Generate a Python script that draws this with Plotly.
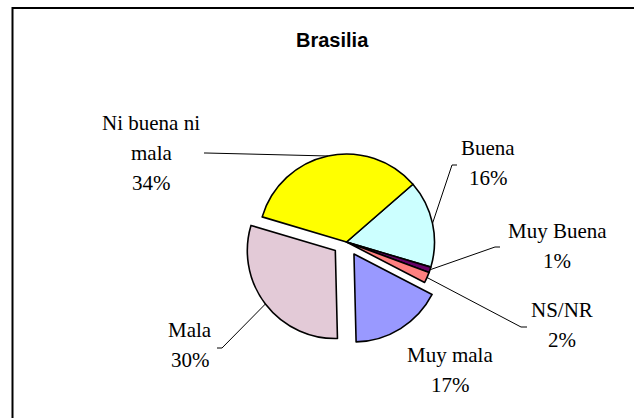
import math
import plotly.graph_objects as go

# ---- data ----
categories = ["Buena", "Muy Buena", "NS/NR", "Muy mala", "Mala", "Ni buena ni mala"]
label_lines = ["Buena", "Muy Buena", "NS/NR", "Muy mala", "Mala", "Ni buena ni<br>mala"]
values = [16, 1, 2, 17, 30, 34]
pulls = [0, 0, 0, 0.16, 0.16, 0]
colors = ["#CCFFFF", "#660066", "#FF8080", "#9999FF", "#E3CAD7", "#FFFF00"]
title_text = "Brasilia"

# ---- layout geometry (pixels) ----
W, H = 634, 418
cx, cy, R = 346.5, 242.0, 88.0
rotation = 49
box_half = R * (1 + max(pulls))

# label text centres (px) and leader-line start/elbow points
label_pos = {
    "Buena": (488, 163),
    "Muy Buena": (557, 246),
    "NS/NR": (562, 325),
    "Muy mala": (450, 370),
    "Mala": (190, 345),
    "Ni buena ni mala": (151, 153),
}
leader = {
    "Buena": [(457, 165), (452, 165)],
    "Muy Buena": [(500, 247), (495, 247)],
    "NS/NR": [(527, 327), (521, 327)],
    "Muy mala": None,
    "Mala": [(217, 348), (222, 348)],
    "Ni buena ni mala": [(204, 153), (206, 153)],
}
line_gap = 30


def px2paper(x, y):
    return x / W, 1 - y / H


fig = go.Figure()
fig.add_trace(go.Pie(
    labels=categories,
    values=values,
    sort=False,
    direction="clockwise",
    rotation=rotation,
    pull=pulls,
    marker=dict(colors=colors, line=dict(color="black", width=1.6)),
    textinfo="none",
    hoverinfo="label+percent",
    showlegend=False,
    domain=dict(
        x=[(cx - box_half) / W, (cx + box_half) / W],
        y=[(H - cy - box_half) / H, (H - cy + box_half) / H],
    ),
))

shapes = []
annotations = []
total = sum(values)
acc = 0.0
for cat, lines, v, p in zip(categories, label_lines, values, pulls):
    a0 = rotation + 360 * acc / total
    acc += v
    a1 = rotation + 360 * acc / total
    mid = math.radians((a0 + a1) / 2)
    rr = R * (1 + p)
    ex, ey = cx + rr * math.sin(mid), cy - rr * math.cos(mid)

    tx, ty = label_pos[cat]
    parts = lines.split("<br>") + [f"{v}%"]
    n = len(parts)
    for i, t in enumerate(parts):
        yy = ty + (i - (n - 1) / 2) * line_gap
        px_, py_ = px2paper(tx, yy)
        annotations.append(dict(
            x=px_, y=py_, xref="paper", yref="paper", text=t, showarrow=False,
            xanchor="center", yanchor="middle",
            font=dict(family="Liberation Serif, Times New Roman, serif", size=21, color="black"),
        ))

    ld = leader[cat]
    if ld:
        pts = [ld[0], ld[1], (ex, ey)]
        path = "M " + " L ".join(f"{px2paper(x, y)[0]},{px2paper(x, y)[1]}" for x, y in pts)
        shapes.append(dict(type="path", xref="paper", yref="paper", path=path,
                           line=dict(color="black", width=1)))

# chart border
shapes.append(dict(type="rect", xref="paper", yref="paper",
                   x0=12.5 / W, x1=1.02, y0=-0.02, y1=1 - 8 / H,
                   line=dict(color="black", width=2), fillcolor="rgba(0,0,0,0)"))

# title
tx, ty = px2paper(332, 40)
annotations.append(dict(x=tx, y=ty, xref="paper", yref="paper", text=f"<b>{title_text}</b>",
                        showarrow=False, xanchor="center", yanchor="middle",
                        font=dict(family="Liberation Sans, Arial, sans-serif", size=20, color="black")))

fig.update_layout(
    width=W, height=H,
    margin=dict(l=0, r=0, t=0, b=0),
    paper_bgcolor="white",
    plot_bgcolor="white",
    shapes=shapes,
    annotations=annotations,
)

fig.write_html("out.html", config={"displayModeBar": False},
               post_script="document.body.style.margin='0px';")
